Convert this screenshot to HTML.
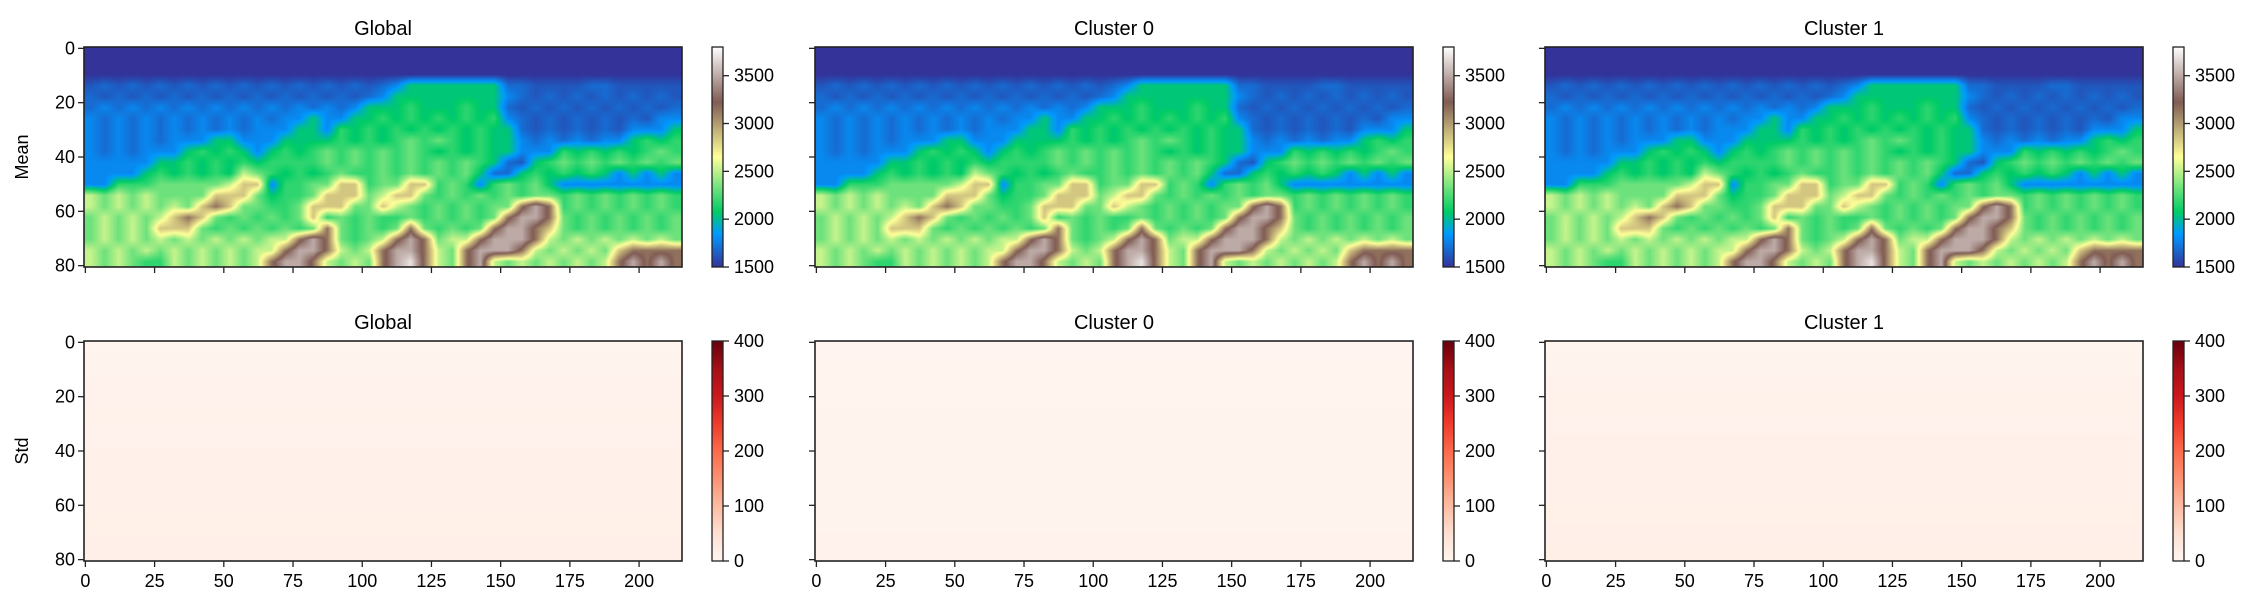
<!DOCTYPE html>
<html><head><meta charset="utf-8">
<style>
body{margin:0;background:#fff;width:2265px;height:612px;overflow:hidden;position:relative;font-family:"Liberation Sans","DejaVu Sans",sans-serif}
canvas{position:absolute}
svg{position:absolute;left:0;top:0}
</style></head>
<body>
<svg id="fig" width="2265" height="612"></svg>
<script>
// ---- data ----
const codeLevels = {'0':1500,'1':1620,'2':1690,'3':1790,'4':2050,'5':2180,'6':2320,'7':2520,'8':2850,'9':3150,'a':3500,'b':3700};
const meanRows = [
["0000000000000000000000000000000000000000000"],
["0000000000000000000000000000000000000000000"],
["0000000000000000000000000000000000000000000"],
["1212121212121212121212","3","4444444","2","211112211111"],
["2121212121212121212123","4","4444444","3","212121212121"],
["2323232323232323232","3","4445444544","2121212121212"],
["3232323232323233","4","33","44545454545","3","212121212133"],
["323232323232333","44","3","545454545454","4","212121213334"],
["323232333","44","333","444","4","545456565454","4","32323233","4545"],
["3232333","4545","4","3","4","5456565656545454","4","3","33","545454565"],
["33333","4","454545","4","5555656565656565","421","45656565656"],
["3333","4","545454","76","545456","556565656","422","4","54545434343"],
["33","5556","66667","88","3","55","66","88","5","66","88","565","3","565","64333333333"],
["767676","666","888","6","4","55","6","888","6","7","88","6","56565656","6565656565"],
["76767676","898","66","55","6","888","66","87","6565","6566","9a9","565656565"],
["676767","898","6565656","8","5656","55","6565","656","9aa9","656565656"],
["67676","888","656565","656","9","65656","9","6565","6","9aa9","8","656565656"],
["67676767676767","7","9a9","656","7","9a9","67","7","9aaa9","7676767676"],
["7676767676767","7","9aa9","767","9aa9","76","9aaa9","767676","89999"],
["7676557676767","9aa9","7676","9ab9","76","9a","767676767","9a9a9"]
];
const meanMin = 1500, meanMax = 3800;
const meanTicks = [1500,2000,2500,3000,3500];
const stdMin = 0, stdMax = 400;
const stdTicks = [0,100,200,300,400];
const stdGlobal  = [3,4,5,6,7,7,8,8,9,9,10,10,11,11,12,12,13,13,14,14];
const stdCluster0= [2,2,3,3,3,3,4,4,4,4,4,5,5,5,5,5,5,6,6,6];
const stdCluster1= [3,4,5,6,7,8,8,9,9,10,10,11,11,12,12,13,13,14,14,15];
const xTicks = [0,25,50,75,100,125,150,175,200];
const yTicks = [0,20,40,60,80];
const titles = ["Global","Cluster 0","Cluster 1"];

// ---- layout ----
const NX=216, NY=81;
const cols=[84,815,1545], axW=598;
const rows=[{top:47,h:220},{top:341,h:220}];
const cbOff=628, cbW=11;

const terrain=[[0,[51,51,153]],[0.15,[0,153,255]],[0.25,[0,204,102]],[0.5,[255,255,153]],[0.75,[128,92,84]],[1,[255,255,255]]];
const reds=[[0,[255,245,240]],[0.125,[254,224,210]],[0.25,[252,187,161]],[0.375,[252,146,114]],[0.5,[251,106,74]],[0.625,[239,59,44]],[0.75,[203,24,29]],[0.875,[165,15,21]],[1,[103,0,13]]];
function cmap(stops,t){t=Math.max(0,Math.min(1,t));for(let i=1;i<stops.length;i++){if(t<=stops[i][0]){const a=stops[i-1],b=stops[i],f=(t-a[0])/(b[0]-a[0]);return a[1].map((v,k)=>Math.round(v+(b[1][k]-v)*f));}}return stops[stops.length-1][1];}

const meanGrid = meanRows.map(segs=>{let s=segs.join('');while(s.length<43)s+=s[s.length-1];return s.slice(0,43).split('').map(ch=>codeLevels[ch]);});

const svg=document.getElementById('fig');
const NS='http://www.w3.org/2000/svg';
function el(tag,attrs,parent){const e=document.createElementNS(NS,tag);for(const k in attrs)e.setAttribute(k,attrs[k]);(parent||svg).appendChild(e);return e;}
function txt(s,attrs){const t=el('text',Object.assign({fill:'#000','font-size':18},attrs));t.textContent=s;return t;}

function drawHeat(x0,y0,h,grid,stops,vmin,vmax,name){
  const nr=grid.length,nc=grid[0].length;
  const cv=document.createElement('canvas');cv.width=axW;cv.height=h;cv.style.left=x0+'px';cv.style.top=y0+'px';
  
  
  const ctx=cv.getContext('2d');const img=ctx.createImageData(axW,h);
  for(let py=0;py<h;py++){
    let fy=(py+0.5)/h*nr-0.5;fy=Math.max(0,Math.min(nr-1,fy));const r0=Math.floor(fy),r1=Math.min(nr-1,r0+1),ty=fy-r0;
    for(let px=0;px<axW;px++){
      let fx=(px+0.5)/axW*nc-0.5;fx=Math.max(0,Math.min(nc-1,fx));const c0=Math.floor(fx),c1=Math.min(nc-1,c0+1),tx=fx-c0;
      const v=(grid[r0][c0]*(1-tx)+grid[r0][c1]*tx)*(1-ty)+(grid[r1][c0]*(1-tx)+grid[r1][c1]*tx)*ty;
      const col=cmap(stops,(v-vmin)/(vmax-vmin));const i=(py*axW+px)*4;
      img.data[i]=col[0];img.data[i+1]=col[1];img.data[i+2]=col[2];img.data[i+3]=255;
    }
  }
  ctx.putImageData(img,0,0);
  document.body.insertBefore(cv,svg);
}

function axes(pi,ri,showX,showY,ylabel,vmin,vmax,ticks,stops,title){
  const x0=cols[pi],y0=rows[ri].top,h=rows[ri].h;
  const sx=v=>x0+(v+0.5)*axW/NX, sy=v=>y0+(v+0.5)*h/NY;
  const g=el('g',{});
  
  
  el('rect',{x:x0,y:y0,width:axW,height:h,fill:'none',stroke:'#222','stroke-width':1.6},g);
  xTicks.forEach(v=>{const x=sx(v);el('line',{x1:x,x2:x,y1:y0+h,y2:y0+h+6,stroke:'#222','stroke-width':1.3},g);
    if(showX){const t=txt(String(v),{x:x,y:y0+h+26,'text-anchor':'middle'});}});
  yTicks.forEach(v=>{const y=sy(v);el('line',{x1:x0-6,x2:x0,y1:y,y2:y,stroke:'#222','stroke-width':1.3},g);
    if(showY){const t=txt(String(v),{x:x0-9,y:y+6,'text-anchor':'end'});}});
  const tt=txt(title,{x:x0+axW/2,y:y0-12,'text-anchor':'middle','font-size':20});
  
  
  if(ylabel){const yl=txt(ylabel,{x:0,y:0,'text-anchor':'middle',transform:`translate(28,${y0+h/2}) rotate(-90)`});
    
    }
  const cx=x0+cbOff;
  const gid='cg'+ri+pi;
  const lg=el('linearGradient',{id:gid,x1:0,y1:1,x2:0,y2:0});
  for(let i=0;i<=40;i++){const c=cmap(stops,i/40);el('stop',{offset:i/40,'stop-color':`rgb(${c})`},lg);}
  el('defs',{}).appendChild(lg);
  const cb=el('rect',{x:cx,y:y0,width:cbW,height:h,fill:`url(#${gid})`,stroke:'#222','stroke-width':1.3});
  
  
  ticks.forEach(v=>{const y=y0+h-(v-vmin)/(vmax-vmin)*h;el('line',{x1:cx+cbW,x2:cx+cbW+6,y1:y,y2:y,stroke:'#222','stroke-width':1.3});
    const t=txt(String(v),{x:cx+cbW+11,y:y+6});});
}

for(let p=0;p<3;p++){
  drawHeat(cols[p],rows[0].top,rows[0].h,meanGrid,terrain,meanMin,meanMax,'mean-heatmap-'+p);
  const sd=[stdGlobal,stdCluster0,stdCluster1][p];
  drawHeat(cols[p],rows[1].top,rows[1].h,sd.map(v=>[v,v]),reds,stdMin,stdMax,'std-heatmap-'+p);
  axes(p,0,false,p===0,p===0?'Mean':null,meanMin,meanMax,meanTicks,terrain,titles[p]);
  axes(p,1,true,p===0,p===0?'Std':null,stdMin,stdMax,stdTicks,reds,titles[p]);
}
</script>
</body></html>
